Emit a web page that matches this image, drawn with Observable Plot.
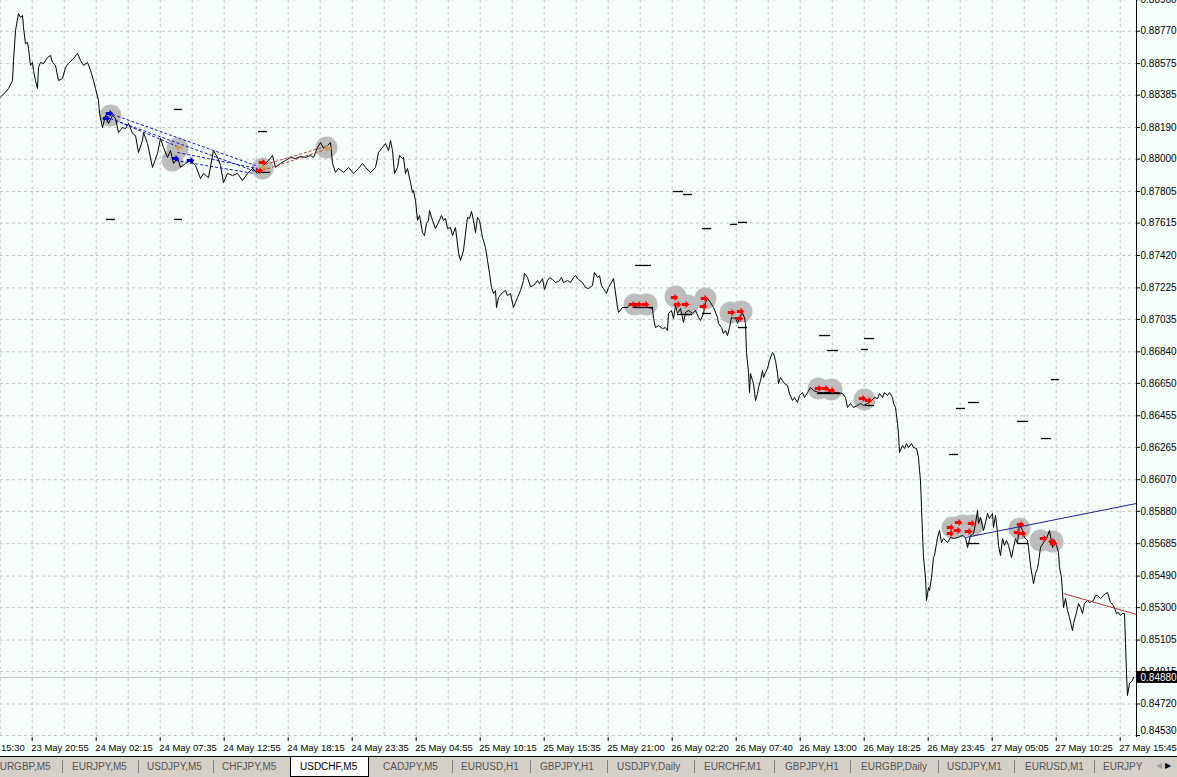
<!DOCTYPE html>
<html><head><meta charset="utf-8">
<script src="https://cdn.jsdelivr.net/npm/d3@7"></script>
<script src="https://cdn.jsdelivr.net/npm/@observablehq/plot@0.6"></script>
<style>
body{margin:0;background:#F5FFFA;width:1177px;height:777px;overflow:hidden;position:relative;font-family:"Liberation Sans",Arial,sans-serif;}
#chart svg{display:block}
#tabs{position:absolute;left:0;top:756px;width:1177px;height:21px;background:#d4d0c8;border-top:1px solid #000;box-sizing:border-box;font-size:10px;overflow:hidden}
.tab{position:absolute;top:4px;white-space:nowrap;color:#555}
.sep{position:absolute;top:3px;width:1px;height:13px;background:#808080}
.active{position:absolute;top:-1px;height:21px;background:#fff;border:1px solid #000;border-top:none;box-sizing:border-box}
.arr{position:absolute;top:4px;font-size:8px}
</style></head><body>
<div id="chart"></div><div id="tabs"></div>
<script>
// ---- price series (bar index, close) ----
const priceBars = [0,5,8,12,13,15,18,20,22,23,25,27,28,30,32,33,35,37,38,40,43,47,50,52,55,58,62,65,68,73,77,80,83,87,90,93,95,98,99,102,105,108,112,115,118,122,125,128,132,135,138,142,143,147,152,157,160,163,167,170,173,177,180,185,190,195,200,203,208,213,217,220,223,227,232,237,242,247,252,257,260,263,268,272,275,280,285,290,295,300,305,310,313,317,320,323,327,330,332,335,338,343,348,353,358,362,365,370,375,378,382,385,388,390,392,394,397,399,402,403,405,407,410,412,413,415,417,419,422,424,426,428,429,432,435,438,441,443,445,447,450,452,455,458,460,463,465,467,469,471,473,475,477,479,482,485,487,489,491,493,495,496,498,502,505,507,510,513,515,517,520,523,524,527,530,533,537,539,542,544,547,549,552,555,558,561,563,567,570,573,575,578,582,585,588,592,594,597,599,601,603,606,608,611,613,614,617,618,622,627,630,637,647,652,653,655,658,662,665,667,668,671,673,675,677,680,683,685,688,692,695,698,700,703,705,707,710,713,717,718,721,723,725,727,729,731,733,735,737,739,742,744,745,746,748,749,750,752,753,755,757,758,760,762,763,765,767,769,772,773,775,777,778,780,782,784,787,789,792,794,797,799,802,804,807,810,813,818,823,830,837,842,845,847,850,853,857,860,863,867,871,874,877,879,882,884,887,889,892,893,895,897,898,899,902,904,906,908,911,913,916,918,919,920,921,922,923,925,926,928,929,931,933,934,936,937,939,941,943,947,950,953,957,962,965,967,970,973,975,977,978,980,983,985,987,989,992,993,995,997,998,1000,1002,1004,1006,1008,1011,1013,1015,1017,1019,1022,1024,1027,1028,1030,1032,1033,1035,1037,1038,1040,1043,1046,1049,1052,1053,1056,1058,1059,1061,1062,1063,1065,1067,1069,1072,1073,1076,1078,1080,1082,1084,1087,1089,1093,1095,1097,1100,1103,1105,1107,1110,1113,1116,1118,1120,1122,1124,1125,1126,1127,1129,1132,1133];
const priceClose = [0.88373,0.88403,0.88425,0.88473,0.88594,0.88774,0.88877,0.88853,0.88865,0.88792,0.88696,0.88702,0.88666,0.88564,0.88582,0.88534,0.88473,0.88425,0.88552,0.88582,0.88576,0.88612,0.88624,0.88582,0.88564,0.88473,0.88485,0.88552,0.88576,0.88606,0.88636,0.88594,0.88564,0.88582,0.88534,0.88473,0.88425,0.88353,0.88275,0.88190,0.88263,0.88215,0.88263,0.88245,0.88160,0.88190,0.88184,0.88215,0.88154,0.88142,0.88040,0.88112,0.88160,0.88094,0.87950,0.88034,0.88124,0.88070,0.88010,0.88052,0.87974,0.88010,0.87950,0.87974,0.87992,0.87962,0.87883,0.87914,0.87889,0.88052,0.88010,0.87962,0.87859,0.87914,0.87901,0.87914,0.87871,0.87914,0.87944,0.87914,0.87932,0.87962,0.87992,0.88022,0.87950,0.87974,0.87992,0.88010,0.88004,0.88016,0.88010,0.88022,0.88010,0.88070,0.88100,0.88064,0.88082,0.88100,0.87974,0.87920,0.87944,0.87920,0.87950,0.87914,0.87944,0.87974,0.87950,0.87920,0.87950,0.88040,0.88070,0.88094,0.88052,0.88112,0.88052,0.87914,0.87950,0.88022,0.88004,0.88010,0.87914,0.87944,0.87859,0.87799,0.87811,0.87751,0.87631,0.87661,0.87558,0.87540,0.87613,0.87631,0.87691,0.87631,0.87582,0.87619,0.87661,0.87631,0.87643,0.87582,0.87588,0.87540,0.87588,0.87438,0.87390,0.87450,0.87552,0.87649,0.87643,0.87685,0.87631,0.87558,0.87649,0.87631,0.87528,0.87468,0.87390,0.87312,0.87227,0.87191,0.87209,0.87107,0.87167,0.87197,0.87209,0.87179,0.87191,0.87107,0.87137,0.87167,0.87209,0.87269,0.87312,0.87287,0.87233,0.87239,0.87269,0.87251,0.87281,0.87215,0.87269,0.87287,0.87275,0.87257,0.87263,0.87287,0.87257,0.87269,0.87257,0.87287,0.87299,0.87275,0.87257,0.87227,0.87221,0.87239,0.87318,0.87287,0.87299,0.87239,0.87221,0.87191,0.87227,0.87257,0.87281,0.87239,0.87107,0.87077,0.87107,0.87107,0.87131,0.87107,0.87107,0.87101,0.87041,0.86986,0.86998,0.86980,0.86986,0.86968,0.87071,0.87089,0.87041,0.87119,0.87071,0.87101,0.87017,0.87077,0.87089,0.87071,0.87089,0.87047,0.87029,0.87071,0.87137,0.87161,0.87137,0.87107,0.87047,0.87011,0.86986,0.86950,0.86968,0.86938,0.86986,0.87047,0.87041,0.87047,0.87011,0.87047,0.87071,0.87047,0.87011,0.86836,0.86716,0.86595,0.86710,0.86667,0.86649,0.86547,0.86589,0.86625,0.86667,0.86728,0.86685,0.86716,0.86740,0.86788,0.86836,0.86830,0.86788,0.86710,0.86649,0.86685,0.86667,0.86649,0.86637,0.86589,0.86547,0.86565,0.86535,0.86577,0.86595,0.86565,0.86595,0.86625,0.86607,0.86595,0.86595,0.86595,0.86595,0.86589,0.86565,0.86505,0.86529,0.86505,0.86517,0.86529,0.86517,0.86529,0.86547,0.86565,0.86559,0.86589,0.86565,0.86595,0.86577,0.86595,0.86565,0.86529,0.86505,0.86409,0.86348,0.86234,0.86276,0.86258,0.86288,0.86264,0.86288,0.86264,0.86258,0.86204,0.86126,0.86065,0.85903,0.85746,0.85602,0.85481,0.85343,0.85421,0.85403,0.85481,0.85602,0.85614,0.85686,0.85722,0.85764,0.85692,0.85716,0.85692,0.85722,0.85716,0.85722,0.85734,0.85722,0.85662,0.85734,0.85746,0.85807,0.85885,0.85807,0.85843,0.85764,0.85813,0.85867,0.85837,0.85867,0.85783,0.85855,0.85752,0.85674,0.85614,0.85716,0.85674,0.85704,0.85674,0.85602,0.85662,0.85716,0.85686,0.85807,0.85764,0.85722,0.85704,0.85662,0.85554,0.85481,0.85445,0.85506,0.85536,0.85572,0.85662,0.85692,0.85716,0.85764,0.85662,0.85704,0.85674,0.85632,0.85542,0.85481,0.85385,0.85301,0.85355,0.85283,0.85241,0.85162,0.85205,0.85271,0.85325,0.85301,0.85265,0.85325,0.85343,0.85331,0.85343,0.85373,0.85373,0.85355,0.85373,0.85385,0.85391,0.85331,0.85313,0.85265,0.85271,0.85253,0.85265,0.85265,0.85084,0.84904,0.84771,0.84843,0.84861,0.84880];
const currentPrice = 0.84880;

// ---- axis labels ----
const yTickLabels = ["0.88960","0.88770","0.88575","0.88385","0.88190","0.88000","0.87805","0.87615","0.87420","0.87225","0.87035","0.86840","0.86650","0.86455","0.86265","0.86070","0.85880","0.85685","0.85490","0.85300","0.85105","0.84915","0.84720","0.84530"];
const timeLabels = ["23 May 15:30","23 May 20:55","24 May 02:15","24 May 07:35","24 May 12:55","24 May 18:15","24 May 23:35","25 May 04:55","25 May 10:15","25 May 15:35","25 May 21:00","26 May 02:20","26 May 07:40","26 May 13:00","26 May 18:25","26 May 23:45","27 May 05:05","27 May 10:25","27 May 15:45"];
const firstLabelBar = -32.3, barsPerLabel = 64, barsPerGrid = 32;

// ---- trade objects ----
const blobBars = [110,177,172,262,326,634,646,675,687,705,730,741,818,831,864,952,962,972,1019,1040,1052];
const blobPrices = [0.88263,0.88064,0.87992,0.87944,0.88070,0.87125,0.87125,0.87173,0.87119,0.87161,0.87077,0.87083,0.86619,0.86613,0.86553,0.85782,0.85794,0.85794,0.85776,0.85704,0.85698];
const redArrowBars = [262,259,632,638,645,674,677,685,704,703,731,740,739,818,825,831,862,868,950,958,957,950,971,968,1020,1017,1022,1043,1052,1053];
const redArrowPrices = [0.87980,0.87932,0.87125,0.87125,0.87125,0.87167,0.87125,0.87125,0.87161,0.87113,0.87077,0.87083,0.87041,0.86619,0.86619,0.86607,0.86559,0.86547,0.85782,0.85813,0.85764,0.85746,0.85807,0.85758,0.85800,0.85752,0.85746,0.85716,0.85698,0.85686];
const blueArrowBars = [109,106,175,190];
const blueArrowPrices = [0.88275,0.88245,0.88004,0.87992];
const tanArrowBars = [178,263,327];
const tanArrowPrices = [0.88070,0.87950,0.88064];
const dashStart = [174,258,106,174,635,673,683,702,730,738,819,827,864,861,956,968,949,1017,1041,1051,258,633,677,702,738,817,865,967,1017];
const dashEnd   = [182,267,115,182,651,683,692,711,737,747,830,838,874,868,965,979,958,1028,1051,1059,270,653,692,711,747,840,874,979,1028];
const dashPrice = [0.88299,0.88166,0.87637,0.87637,0.87360,0.87805,0.87787,0.87582,0.87607,0.87619,0.86938,0.86848,0.86920,0.86854,0.86499,0.86535,0.86222,0.86421,0.86318,0.86673,0.87920,0.87107,0.87065,0.87071,0.86986,0.86589,0.86517,0.85686,0.85686];
const blueDashX1 = [112,115,110,177,175], blueDashY1 = [0.88269,0.88233,0.88245,0.88040,0.87992];
const blueDashX2 = [255,255,177,257,253], blueDashY2 = [0.87962,0.87926,0.88076,0.87944,0.87914];
const redDashX1 = [265,262], redDashY1 = [0.87968,0.87932];
const redDashX2 = [325,322], redDashY2 = [0.88076,0.88052];
const trendX1 = [965,1063], trendY1 = [0.85722,0.85385];
const trendX2 = [1136,1136], trendY2 = [0.85927,0.85259];
const trendColors = ["#1c1ca0","#b8303c"];

// ---- tabs ----
const tabNames = ["EURGBP,M5","EURJPY,M5","USDJPY,M5","CHFJPY,M5","USDCHF,M5","CADJPY,M5","EURUSD,H1","GBPJPY,H1","USDJPY,Daily","EURCHF,M1","GBPJPY,H1","EURGBP,Daily","USDJPY,M1","EURUSD,M1","EURJPY"];
const tabLeft = [-7,72,147,222,300,383,461,540,617,704,785,861,947,1025,1103];
const sepLeft = [62,138,213,452,530,607,694,774,850,938,1014,1094];
const activeTab = 4;

// ---- layout ----
const W = 1177, H = 756, plotBottom = 737, axisX = 1136;
const yTop = 0.88955, pricePerPx = 0.0000602;
const yBottom = yTop - plotBottom * pricePerPx;

// filled block arrow symbol (MT4 style)
const arrowSymbol = {
  draw(ctx, size) {
    const s = Math.sqrt(size) / 2, t = s * 0.4;
    ctx.moveTo(-s, -t); ctx.lineTo(0, -t); ctx.lineTo(0, -s); ctx.lineTo(s, 0);
    ctx.lineTo(0, s); ctx.lineTo(0, t); ctx.lineTo(-s, t); ctx.closePath();
  }
};

const rows = (xs, ys) => xs.map((x, i) => ({x, y: ys[i]}));
const priceData = rows(priceBars, priceClose);
const yTickValues = yTickLabels.map(Number);
const labelBars = timeLabels.map((_, i) => firstLabelBar + i * barsPerLabel);
const gridBars = d3.range(firstLabelBar + barsPerGrid, axisX, barsPerGrid);
const dashes = dashStart.map((x1, i) => ({x1, x2: dashEnd[i], y: dashPrice[i]}));
const links = (x1, y1, x2, y2) => x1.map((a, i) => ({x1: a, y1: y1[i], x2: x2[i], y2: y2[i]}));
const trends = links(trendX1, trendY1, trendX2, trendY2).map((d, i) => ({...d, c: trendColors[i]}));

const chart = Plot.plot({
  width: W, height: H,
  marginTop: 0, marginLeft: 0, marginRight: W - axisX, marginBottom: H - plotBottom,
  x: {domain: [0, axisX], axis: null},
  y: {domain: [yBottom, yTop], axis: null},
  style: {background: "#F5FFFA", fontFamily: "Liberation Sans, Arial, sans-serif", fontSize: "10px"},
  marks: [
    Plot.ruleY(yTickValues, {stroke: "#c4c4c4", strokeDasharray: "3,3"}),
    Plot.ruleX(gridBars, {stroke: "#c4c4c4", strokeDasharray: "3,3"}),
    Plot.ruleY([currentPrice], {stroke: "#c0c0c0"}),
    Plot.dot(rows(blobBars, blobPrices), {x: "x", y: "y", r: 11, fill: "#bdbdbd"}),
    Plot.line(priceData, {x: "x", y: "y", stroke: "black", strokeWidth: 1}),
    Plot.ruleY(dashes, {x1: "x1", x2: "x2", y: "y", stroke: "black", strokeWidth: 1.3}),
    Plot.link(links(blueDashX1, blueDashY1, blueDashX2, blueDashY2), {x1: "x1", y1: "y1", x2: "x2", y2: "y2", stroke: "#1010c8", strokeDasharray: "3,2"}),
    Plot.link(links(redDashX1, redDashY1, redDashX2, redDashY2), {x1: "x1", y1: "y1", x2: "x2", y2: "y2", stroke: "#c83030", strokeDasharray: "3,2"}),
    Plot.link(trends, {x1: "x1", y1: "y1", x2: "x2", y2: "y2", stroke: "c"}),
    Plot.dot(rows(redArrowBars, redArrowPrices), {x: "x", y: "y", symbol: arrowSymbol, r: 4.2, fill: "#ff0000", stroke: "none"}),
    Plot.dot(rows(blueArrowBars, blueArrowPrices), {x: "x", y: "y", symbol: arrowSymbol, r: 4.2, fill: "#0000d0", stroke: "none"}),
    Plot.dot(rows(tanArrowBars, tanArrowPrices), {x: "x", y: "y", symbol: arrowSymbol, r: 4.2, rotate: 180, fill: "#c8a060", stroke: "none"}),
    // right price axis
    Plot.ruleX([axisX], {stroke: "black"}),
    Plot.ruleY(yTickValues, {x1: axisX, x2: axisX + 4, stroke: "black"}),
    Plot.text(yTickValues, {
      y: (d, i) => i === yTickValues.length - 1 ? d + 5 * pricePerPx : d,
      text: (d, i) => yTickLabels[i], frameAnchor: "right", dx: 4, textAnchor: "start", fill: "black", fontSize: 10
    }),
    Plot.rect([currentPrice], {x1: axisX + 1, x2: W, y1: d => d - 6 * pricePerPx, y2: d => d + 6 * pricePerPx, fill: "black"}),
    Plot.text([currentPrice], {y: d => d, text: d => d.toFixed(5), frameAnchor: "right", dx: 4, textAnchor: "start", fill: "white", fontSize: 10}),
    // time axis
    Plot.ruleX(labelBars, {y1: yBottom, y2: yBottom - 4 * pricePerPx, stroke: "black"}),
    Plot.text(labelBars, {x: d => d, text: (d, i) => timeLabels[i], frameAnchor: "bottom", lineAnchor: "middle", dy: 10, dx: -1, textAnchor: "start", fill: "black", fontSize: 9.5})
  ]
});
document.getElementById("chart").appendChild(chart);

// tabs bar
const tabs = document.getElementById("tabs");
const act = document.createElement("div");
act.className = "active"; act.style.left = "290px"; act.style.width = "79px";
tabs.appendChild(act);
tabNames.forEach((t, i) => {
  const s = document.createElement("span");
  s.className = "tab"; s.textContent = t; s.style.left = tabLeft[i] + "px";
  if (i === activeTab) s.style.color = "#000";
  tabs.appendChild(s);
});
sepLeft.forEach(x => {
  const s = document.createElement("div");
  s.className = "sep"; s.style.left = x + "px"; tabs.appendChild(s);
});
const box = document.createElement("div");
box.style.cssText = "position:absolute;left:1142px;top:0;width:35px;height:20px;background:#d4d0c8";
tabs.appendChild(box);
[["◀", 1156, "#a0a0a0"], ["▶", 1165, "#000"]].forEach(([c, x, col]) => {
  const s = document.createElement("span");
  s.className = "arr"; s.textContent = c; s.style.left = x + "px"; s.style.color = col;
  tabs.appendChild(s);
});
</script></body></html>
